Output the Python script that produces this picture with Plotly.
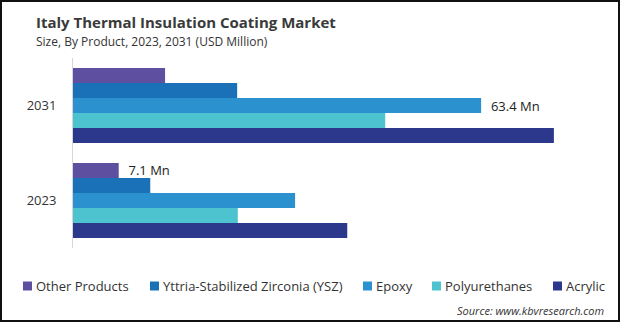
import plotly.graph_objects as go

years = ["2023", "2031"]
series_names = ["Other Products", "Yttria-Stabilized Zirconia (YSZ)", "Epoxy", "Polyurethanes", "Acrylic"]
other_products = [7.1, 14.3]
ysz = [12.0, 25.5]
epoxy = [34.5, 63.4]
polyurethanes = [25.6, 48.5]
acrylic = [42.6, 74.7]
other_labels = ["7.1 Mn", ""]
epoxy_labels = ["", "63.4 Mn"]

colors = {
    "Other Products": "#5F4FA1",
    "Yttria-Stabilized Zirconia (YSZ)": "#1B71B7",
    "Epoxy": "#2B91CF",
    "Polyurethanes": "#4DC3CF",
    "Acrylic": "#2C388C",
}
values = {
    "Other Products": other_products,
    "Yttria-Stabilized Zirconia (YSZ)": ysz,
    "Epoxy": epoxy,
    "Polyurethanes": polyurethanes,
    "Acrylic": acrylic,
}
labels = {"Other Products": other_labels, "Epoxy": epoxy_labels}

W, H = 620, 322
ML, MR, MT, MB = 73, 32, 58, 74
PW = W - ML - MR
PH = H - MT - MB


def px(x):
    return (x - ML) / PW


def py(y):
    return (H - MB - y) / PH


fig = go.Figure()
for name in reversed(series_names):
    t = labels.get(name)
    fig.add_trace(go.Bar(
        y=years, x=values[name], name=name, orientation="h",
        marker=dict(color=colors[name], line=dict(width=0)),
        text=["\u00a0\u00a0" + s if s else "" for s in t] if t else None,
        textposition="outside" if t else None,
        constraintext="none",
        textfont=dict(size=13, color="#222"),
        cliponaxis=False,
        showlegend=False,
        hoverinfo="x+name",
    ))

annotations = [
    dict(text="<b>Italy Thermal Insulation Coating Market</b>", x=px(34), y=py(22),
         xanchor="left", yanchor="middle", font=dict(size=15, color="#3a3a3a")),
    dict(text="Size, By Product, 2023, 2031 (USD Million)", x=px(34), y=py(42),
         xanchor="left", yanchor="middle", font=dict(size=12, color="#333")),
    dict(text="<i>Source: www.kbvresearch.com</i>", x=px(606), y=py(310),
         xanchor="right", yanchor="middle", font=dict(size=11, color="#333")),
]
shapes = []
# legend: square x positions and text start positions (pixels)
legend_sq = [23, 150, 363, 432, 553]
legend_tx = [34, 161, 374, 443, 564]
for name, sx, tx in zip(series_names, legend_sq, legend_tx):
    shapes.append(dict(type="rect", xref="paper", yref="paper",
                       x0=px(sx), x1=px(sx + 9), y0=py(290.5), y1=py(281.5),
                       fillcolor=colors[name], line=dict(width=0)))
    annotations.append(dict(text=name, x=px(tx), y=py(286), xanchor="left", yanchor="middle",
                            font=dict(size=13, color="#333")))
# outer frame
shapes.append(dict(type="rect", xref="paper", yref="paper",
                   x0=px(1), x1=px(619), y0=py(321), y1=py(1),
                   line=dict(color="#111", width=2), fillcolor="rgba(0,0,0,0)"))
for a in annotations:
    a.update(xref="paper", yref="paper", showarrow=False)

fig.update_layout(
    width=W, height=H,
    margin=dict(l=ML, r=MR, t=MT, b=MB),
    paper_bgcolor="white", plot_bgcolor="white",
    font=dict(family="Open Sans", color="#333"),
    barmode="group", bargap=0.21, bargroupgap=0,
    xaxis=dict(range=[0, 80], showgrid=False, showticklabels=False, zeroline=False,
               showline=False, ticks=""),
    yaxis=dict(categoryorder="array", categoryarray=years, showgrid=False,
               showline=True, linecolor="#d6d6d6", linewidth=1, ticks="",
               tickfont=dict(size=13, color="#333"), ticklabelstandoff=13),
    showlegend=False,
    annotations=annotations,
    shapes=shapes,
)

fig.write_html("out.html")
